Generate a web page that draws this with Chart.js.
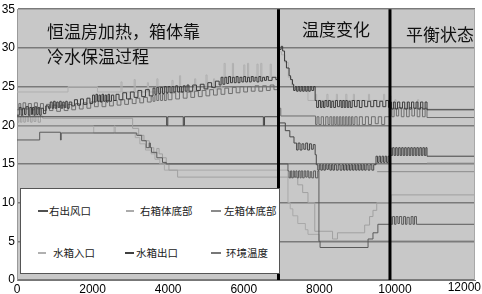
<!DOCTYPE html>
<html><head><meta charset="utf-8">
<script src="https://cdn.jsdelivr.net/npm/chart.js@4.4.1/dist/chart.umd.min.js"></script>
<style>
html,body{margin:0;padding:0;background:#fff;overflow:hidden;}
#wrap{position:relative;width:482px;height:294px;}
#c{position:absolute;left:0;top:0;}
.note{position:absolute;font-family:"Noto Sans CJK SC",sans-serif;font-size:17px;line-height:17px;color:#111;white-space:nowrap;}
#legend{position:absolute;left:20px;top:188px;width:260px;height:86px;background:#fff;border:1px solid #555;box-sizing:border-box;}
.item{position:absolute;font-family:"Noto Sans CJK SC",sans-serif;font-size:10.5px;line-height:12px;color:#222;white-space:nowrap;}
.dash{position:absolute;height:1.5px;}
</style></head>
<body><div id="wrap"><canvas id="c" width="482" height="294"></canvas>
<div class="note" style="left:47px;top:22px">恒温房加热，箱体靠</div>
<div class="note" style="left:47px;top:47px">冷水保温过程</div>
<div class="note" style="left:302px;top:20px">温度变化</div>
<div class="note" style="left:406px;top:25px">平衡状态</div>
<div id="legend"></div>
</div>
<script>
// ---- data ----
const xTicks = [0, 2000, 4000, 6000, 8000, 10000, 12000];
const phaseLines = [6920, 9870];
const legendLabels = ['右出风口', '右箱体底部', '左箱体底部', '水箱入口', '水箱出口', '环境温度'];
const legendColors = ['#505050', '#ababab', '#8a8a8a', '#b0b0b0', '#404040', '#777777'];

const outletRight = [[0,21.3],[60,22.3],[110,21.3],[150,22.2],[200,21.4],[240,22.4],[300,21.3],[340,22.3],[380,21.4],[410,22.3],[450,21.3],[480,22.4],[520,21.4],[560,22.3],[600,21.3],[640,22.2],[700,21.5],[760,22.5],[830,22.2],[880,23.0],[930,22.2],[970,23.1],[1010,22.2],[1050,23.0],[1090,22.3],[1130,23.1],[1170,22.2],[1210,23.0],[1250,22.3],[1290,23.1],[1330,22.2],[1380,23.0],[1450,22.5],[1520,23.3],[1600,22.6],[1680,23.4],[1760,22.7],[1850,23.5],[1930,22.8],[2000,23.9],[2050,23.0],[2090,24.0],[2130,23.1],[2170,23.9],[2210,23.0],[2250,24.0],[2290,23.1],[2330,23.9],[2370,23.0],[2410,24.0],[2450,23.1],[2500,23.9],[2560,23.2],[2620,24.0],[2700,23.3],[2800,24.2],[2900,23.4],[3000,24.3],[3100,23.6],[3200,24.5],[3300,23.7],[3400,24.6],[3500,23.8],[3600,24.8],[3650,24.0],[3700,24.9],[3750,24.1],[3800,24.9],[3850,24.1],[3900,25.0],[3950,24.2],[4000,25.0],[4050,24.2],[4100,25.0],[4150,24.3],[4200,25.1],[4250,24.3],[4300,25.0],[4350,24.3],[4400,25.1],[4450,24.4],[4500,25.2],[4550,24.4],[4650,25.2],[4750,24.5],[4850,25.3],[4950,24.7],[5050,25.5],[5150,24.9],[5250,25.7],[5350,25.2],[5400,26.2],[5450,25.3],[5500,26.2],[5550,25.4],[5600,26.3],[5650,25.5],[5700,26.2],[5750,25.5],[5800,26.3],[5850,25.5],[5900,26.2],[5950,25.6],[6000,26.3],[6050,25.6],[6100,26.2],[6150,25.6],[6200,26.3],[6250,25.7],[6300,26.2],[6350,25.6],[6400,26.3],[6450,25.7],[6500,26.2],[6550,25.8],[6600,26.3],[6650,25.8],[6750,26.2],[6850,25.9],[6930,29.8],[6990,30.2],[7030,29.6],[7080,28.3],[7130,27.4],[7200,26.4],[7240,25.9],[7290,25.3],[7320,24.5],[7360,25.0],[7400,24.4],[7440,25.0],[7480,24.4],[7520,25.0],[7560,24.4],[7600,25.0],[7640,24.4],[7680,25.0],[7720,24.4],[7760,25.0],[7800,24.5],[7850,25.0],[7890,23.2],[7930,22.3],[7980,23.2],[8030,22.3],[8070,23.1],[8110,22.3],[8150,23.2],[8200,22.4],[8240,23.2],[8290,22.3],[8330,23.1],[8380,22.3],[8430,23.2],[8480,22.4],[8540,23.2],[8580,22.3],[8620,23.2],[8660,22.3],[8700,23.2],[8740,22.3],[8780,23.1],[8820,22.3],[8870,23.2],[8930,22.4],[9000,23.2],[9060,22.3],[9130,23.2],[9200,22.4],[9280,23.1],[9360,22.4],[9440,23.2],[9520,22.4],[9600,23.1],[9680,22.4],[9760,23.2],[9830,22.3],[9870,23.0],[9910,22.1],[9960,23.0],[10010,22.1],[10070,23.0],[10130,22.2],[10200,23.0],[10260,22.1],[10330,23.0],[10380,22.1],[10440,23.0],[10500,22.2],[10560,23.0],[10610,22.1],[10680,23.0],[10740,22.1],[10800,23.0],[10850,22.0],[12120,22.0]];

const bottomLeft = [[0,22.0],[50,22.8],[100,22.0],[160,22.9],[230,22.1],[300,22.8],[380,22.0],[460,22.9],[540,22.1],[620,22.8],[700,21.9],[780,22.7],[860,21.9],[950,22.6],[1050,21.8],[1150,22.6],[1250,21.9],[1350,22.7],[1450,22.0],[1550,22.8],[1650,22.1],[1750,22.9],[1850,22.2],[1950,23.0],[2050,22.4],[2150,23.1],[2250,22.4],[2350,23.2],[2450,22.5],[2550,23.2],[2650,22.6],[2750,23.3],[2850,22.7],[2950,23.4],[3050,22.8],[3150,23.5],[3250,22.9],[3350,23.6],[3450,23.0],[3550,23.7],[3600,23.1],[3650,23.9],[3700,23.2],[3750,24.0],[3800,23.2],[3850,24.0],[3900,23.2],[3950,24.1],[4000,23.3],[4100,24.2],[4200,23.4],[4300,24.3],[4400,23.5],[4500,24.3],[4600,23.6],[4700,24.4],[4800,23.7],[4900,24.5],[5000,23.8],[5100,24.6],[5200,23.9],[5300,24.7],[5400,24.0],[5500,24.8],[5600,24.1],[5700,24.9],[5800,24.2],[5900,25.0],[6000,24.3],[6100,25.0],[6200,24.4],[6300,25.1],[6400,24.4],[6500,25.1],[6600,24.5],[6700,25.2],[6800,24.6],[6930,22.2],[6980,21.2],[7900,20.1],[7940,21.1],[7990,20.1],[8050,21.1],[8110,20.0],[8170,21.1],[8230,20.1],[8280,21.1],[8330,20.0],[8370,21.1],[8410,20.1],[8450,21.1],[8490,20.0],[8530,21.1],[8570,20.0],[8610,21.1],[8650,20.0],[8690,21.1],[8730,20.0],[8770,21.1],[8810,20.0],[8850,21.1],[8890,20.1],[8940,21.1],[9000,20.0],[9060,21.1],[9140,20.1],[9220,21.1],[9300,20.1],[9380,21.1],[9480,20.2],[9560,21.1],[9650,20.1],[9730,21.1],[9870,22.3],[9920,21.1],[9980,22.2],[10040,21.2],[10100,22.3],[10170,21.1],[10240,22.2],[10310,21.1],[10380,22.3],[10450,21.2],[10520,22.2],[10590,21.1],[10660,22.3],[10730,21.1],[10800,22.2],[10850,21.0],[12120,21.0]];

const bottomRight = [[0,20.4],[50,21.2],[90,20.4],[130,21.3],[180,20.4],[220,21.2],[270,20.5],[310,21.3],[360,20.4],[400,21.2],[450,20.5],[500,21.3],[560,20.4],[620,21.2],[680,20.9],[3060,19.6],[3220,18.7],[3360,18.0],[3500,17.1],[3620,16.4],[3700,17.0],[3760,16.3],[3850,15.8],[3950,15.0],[4020,14.2],[4250,13.3],[7430,12.3],[7560,11.3],[7700,10.0],[7880,6.3],[8350,5.3],[8480,6.1],[9200,7.1],[9330,8.2],[9420,9.0],[9520,10.0],[9900,11.0],[12120,11.0]];

const tankOutlet = [[0,21.1],[3960,20.0],[3990,21.1],[4400,20.0],[4430,21.1],[6520,20.0],[6550,21.1],[6930,20.3],[7100,19.3],[7220,18.5],[7330,17.7],[7400,16.8],[7440,17.7],[7490,16.8],[7540,17.6],[7590,16.9],[7640,17.7],[7690,16.8],[7740,17.6],[7790,16.9],[7840,17.5],[7890,16.2],[7920,14.9],[7960,14.2],[8000,14.9],[8040,14.2],[8080,14.9],[8120,14.2],[8160,14.9],[8200,14.3],[8240,14.9],[8280,14.2],[8320,14.9],[8360,14.2],[8400,14.9],[8450,14.2],[8500,14.9],[8550,14.2],[8600,14.9],[8640,14.2],[8680,14.9],[8720,14.2],[8760,14.9],[8800,14.2],[8840,14.9],[8880,14.2],[8920,14.9],[8960,14.2],[9000,14.9],[9040,14.2],[9080,14.9],[9120,14.2],[9160,14.9],[9200,14.2],[9240,14.9],[9290,14.2],[9340,14.9],[9390,14.2],[9440,14.9],[9500,16.0],[9540,15.2],[9580,16.0],[9620,15.2],[9660,16.0],[9700,15.2],[9740,16.0],[9780,15.2],[9820,16.0],[9870,17.1],[9900,16.1],[9940,17.1],[9980,16.1],[10020,17.1],[10060,16.1],[10100,17.1],[10140,16.1],[10180,17.1],[10220,16.1],[10260,17.1],[10300,16.1],[10340,17.1],[10380,16.1],[10420,17.1],[10460,16.1],[10500,17.1],[10540,16.1],[10580,17.1],[10620,16.1],[10660,17.1],[10700,16.1],[10740,17.1],[10780,16.1],[10820,17.1],[10850,16.0],[12120,16.0]];

const tankInlet = [[0,19.9],[2030,19.0],[2570,19.9],[2600,19.0],[3130,18.4],[3250,17.6],[3400,16.8],[3550,16.3],[3650,15.6],[3780,15.0],[3900,14.2],[7170,10.0],[7230,9.2],[7300,8.3],[7430,7.3],[7630,6.5],[7700,5.9],[8000,5.1],[12120,5.1]];

const ambient = [[0,18.1],[600,19.1],[1150,18.1],[1170,19.0],[3100,19.0],[3170,18.7],[3300,18.0],[3420,17.1],[3500,17.7],[3530,17.1],[3560,16.5],[3700,15.8],[3850,15.2],[3950,15.0],[7170,14.1],[7200,13.2],[7240,14.1],[7270,13.2],[7310,14.1],[7340,13.3],[7380,14.1],[7410,13.2],[7450,14.1],[7490,13.2],[7520,14.1],[7560,13.2],[7600,14.1],[7640,13.3],[7680,14.1],[7720,13.2],[7760,14.0],[7800,13.2],[7850,14.1],[7900,13.2],[7960,14.1],[7990,5.0],[8020,4.2],[9290,5.3],[9420,6.1],[9550,7.2],[9870,8.2],[9900,7.2],[9940,8.2],[9990,7.2],[10030,8.2],[10080,7.3],[10120,8.2],[10180,7.2],[10230,8.2],[10280,7.2],[10320,8.1],[10380,7.2],[10430,8.2],[10480,7.2],[10520,8.2],[10570,7.2],[12120,7.2]];

const upperTrace = [[0,24.3],[1350,25.0],[2130,24.3],[2750,25.6],[2780,24.3],[3100,25.9],[3130,24.3],[3450,25.5],[3480,24.3],[3700,26.0],[3730,24.3],[4100,25.8],[4130,24.3],[4300,26.4],[4330,24.3],[4700,26.0],[4730,24.5],[5000,26.5],[5030,24.6],[5200,26.0],[5230,24.7],[5420,26.2],[5480,28.0],[5510,26.2],[5700,28.0],[5730,26.2],[6000,27.8],[6030,26.2],[6100,28.0],[6130,26.2],[6350,27.9],[6380,26.2],[6450,28.0],[6480,26.2],[6700,27.9],[6730,26.2],[6930,29.5],[7000,29.1],[7090,28.1],[7180,26.2],[7260,25.2],[7340,24.6],[7700,23.2],[7900,24.0],[7930,23.2],[8200,24.0],[8230,23.2],[8450,24.0],[8480,23.2],[8700,24.0],[8730,23.2],[8900,24.0],[8930,23.2],[9300,24.0],[9330,23.2],[9700,24.0],[9730,23.2],[9870,23.8],[9900,22.1],[10000,23.3],[10030,22.1],[10300,23.0],[10330,22.1],[10600,23.3],[10630,22.1],[12120,22.1]];

const extraLow = [[9530,14.0],[12120,14.0],[12120,null],[10850,15.1],[12120,15.1]];

// ---- chart ----
const toXY = a => a.map(p => ({x: p[0], y: p[1]}));
const mk = (label, arr, color) => ({label, data: toXY(arr), borderColor: color, borderWidth: 1, pointRadius: 0, stepped: true, fill: false, spanGaps: false});

const datasets = [
  mk('右出风口', outletRight, '#3a3a3a'),
  mk('水箱出口', tankOutlet, '#464646'),
  mk('环境温度', ambient, '#5a5a5a'),
  mk('左箱体底部', bottomLeft, '#6e6e6e'),
  mk('extra', extraLow, '#8c8c8c'),
  mk('右箱体底部', bottomRight, '#a0a0a0'),
  mk('水箱入口', tankInlet, '#a9a9a9'),
  mk('upper', upperTrace, '#b0b0b0')
];

const bgPlugin = {
  id: 'bg',
  beforeDraw(chart) {
    const {ctx, chartArea: a} = chart;
    ctx.save();
    ctx.fillStyle = '#c8c8c8';
    ctx.fillRect(a.left, a.top, a.right - a.left, a.bottom - a.top);
    ctx.restore();
  },
  afterDatasetsDraw(chart) {
    const {ctx, chartArea: a, scales} = chart;
    ctx.save();
    ctx.strokeStyle = '#000';
    ctx.lineWidth = 3;
    phaseLines.forEach(v => {
      const px = scales.x.getPixelForValue(v);
      ctx.beginPath(); ctx.moveTo(px, a.top); ctx.lineTo(px, a.bottom); ctx.stroke();
    });
    ctx.strokeStyle = '#a8a8a8'; ctx.lineWidth = 1;
    ctx.beginPath(); ctx.moveTo(a.right - 0.5, a.top); ctx.lineTo(a.right - 0.5, a.bottom); ctx.stroke();
    ctx.restore();
  },
  afterDraw(chart) {
    const {ctx, scales} = chart;
    const last = xTicks[xTicks.length - 1];
    ctx.save();
    ctx.font = '12px "Liberation Sans", Arial, sans-serif';
    ctx.fillStyle = '#000';
    ctx.textBaseline = 'top';
    const t = String(last);
    const w = ctx.measureText(t).width;
    const px = Math.min(scales.x.getPixelForValue(last) - w / 2, chart.width - w - 1);
    ctx.fillText(t, px, scales.x.top + 2);
    ctx.restore();
  }
};

new Chart(document.getElementById('c'), {
  type: 'line',
  data: {datasets},
  options: {
    responsive: false,
    animation: false,
    events: [],
    layout: {autoPadding: false, padding: {top: 3, right: 7, left: 0, bottom: 0}},
    plugins: {legend: {display: false}, tooltip: {enabled: false}},
    scales: {
      x: {
        type: 'linear', min: 0, max: 12120,
        afterBuildTicks: s => { s.ticks = xTicks.map(v => ({value: v})); },
        afterFit: s => { s.height = 14; },
        grid: {display: false, drawTicks: false},
        border: {display: true, color: '#777', width: 1},
        ticks: {
          color: '#000', padding: 2, maxRotation: 0, autoSkip: false,
          font: {family: '"Liberation Sans", Arial, sans-serif', size: 12},
          callback: v => (v === xTicks[xTicks.length - 1] ? '' : String(v))
        }
      },
      y: {
        min: 0, max: 35,
        ticks: {stepSize: 5, color: '#000', padding: 2, font: {family: '"Liberation Sans", Arial, sans-serif', size: 12}},
        afterFit: s => { s.width = 17; },
        grid: {color: '#7a7a7a', lineWidth: 1.5, drawTicks: false},
        border: {display: true, color: '#9a9a9a', width: 1}
      }
    }
  },
  plugins: [bgPlugin]
});

// ---- legend overlay ----
const legendPos = [[17, 28, 22], [105, 119, 22], [190, 203, 22], [17, 32, 64], [104, 115, 64], [190, 205, 64]];
const dashW = [10, 8, 10, 8, 9, 10];
const leg = document.getElementById('legend');
legendLabels.forEach((lab, i) => {
  const [dx, tx, cy] = legendPos[i];
  const d = document.createElement('div');
  d.className = 'dash';
  d.style.left = dx + 'px'; d.style.top = (cy - 1) + 'px'; d.style.width = dashW[i] + 'px';
  d.style.background = legendColors[i];
  leg.appendChild(d);
  const t = document.createElement('div');
  t.className = 'item';
  t.style.left = tx + 'px'; t.style.top = (cy - 6) + 'px';
  t.textContent = lab;
  leg.appendChild(t);
});
</script>
</body></html>
